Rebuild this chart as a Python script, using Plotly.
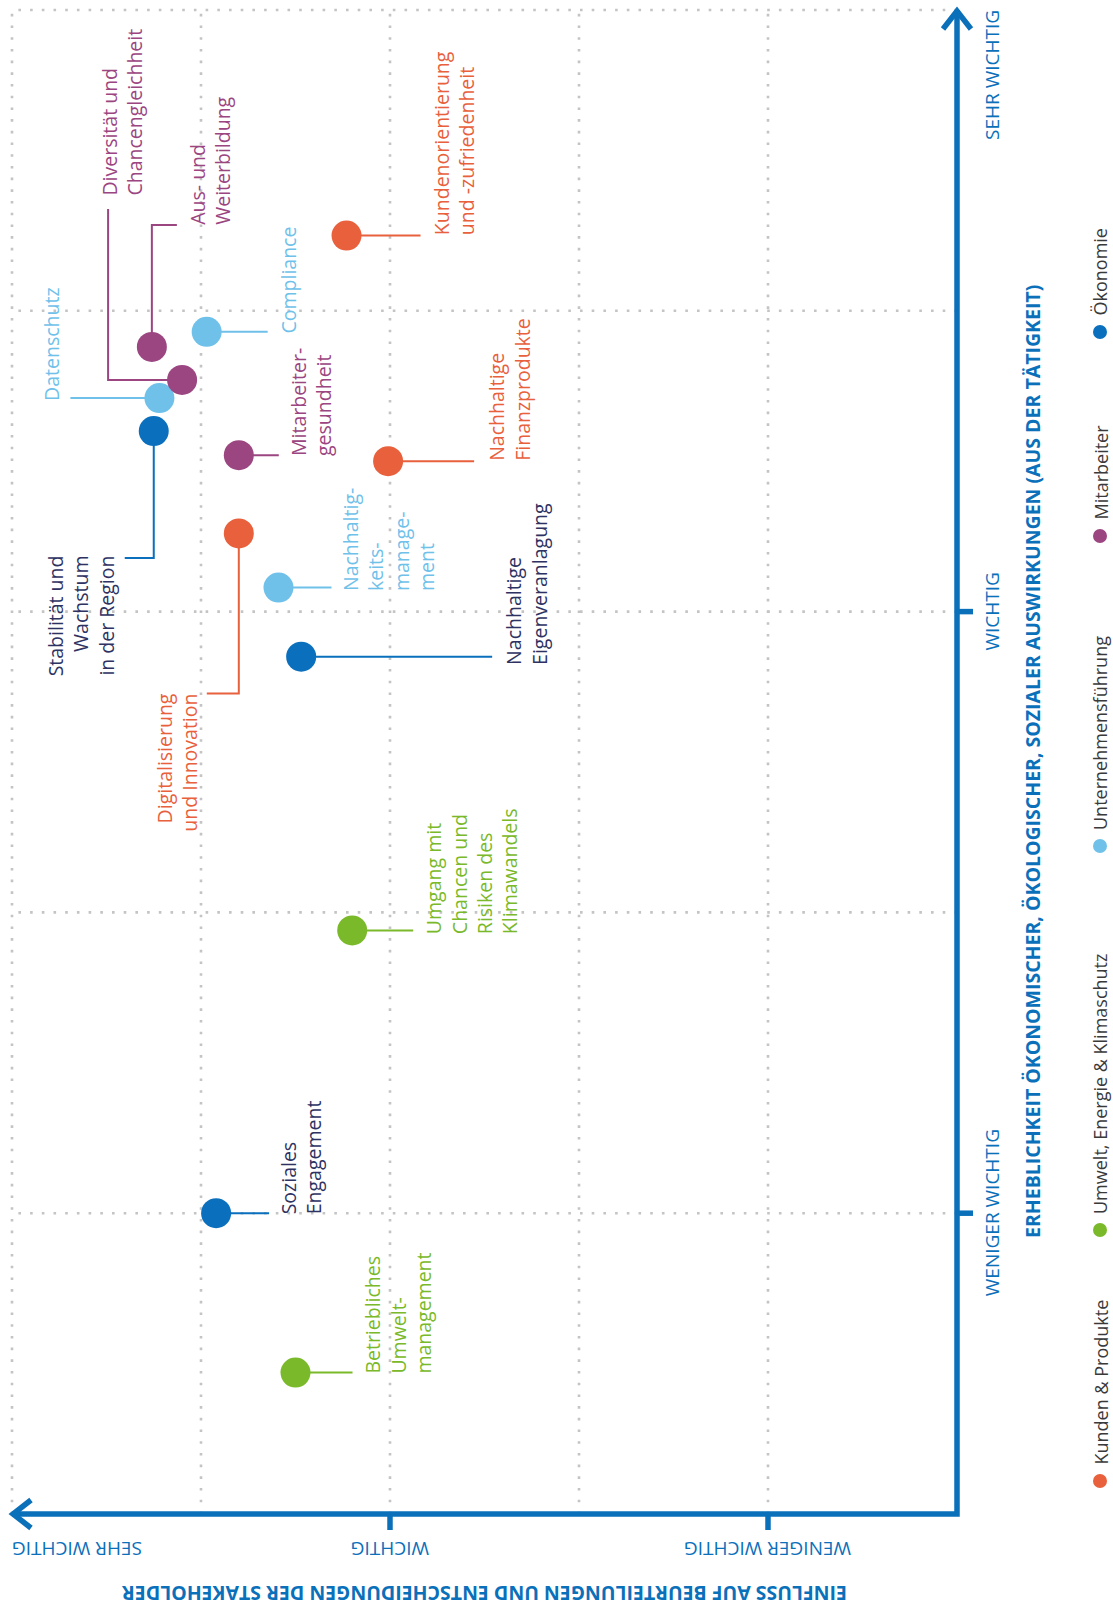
import plotly.graph_objects as go

# ---------------- data ----------------
topics = [
    "Kundenorientierung<br>und -zufriedenheit",
    "Compliance",
    "Aus- und<br>Weiterbildung",
    "Diversität und<br>Chancengleichheit",
    "Datenschutz",
    "Stabilität und<br>Wachstum<br>in der Region",
    "Mitarbeiter-<br>gesundheit",
    "Nachhaltige<br>Finanzprodukte",
    "Digitalisierung<br>und Innovation",
    "Nachhaltig-<br>keits-<br>manage-<br>ment",
    "Nachhaltige<br>Eigenveranlagung",
    "Umgang mit<br>Chancen und<br>Risiken des<br>Klimawandels",
    "Soziales<br>Engagement",
    "Betriebliches<br>Umwelt-<br>management",
]
# index into `categories`
topic_category = [0, 2, 3, 3, 2, 4, 3, 0, 0, 2, 4, 1, 4, 1]

# Einfluss auf Beurteilungen und Entscheidungen der Stakeholder (0..5)
einfluss = [3.23, 3.97, 4.26, 4.10, 4.22, 4.25, 3.80, 3.01, 3.80, 3.59, 3.47, 3.20, 3.92, 3.50]
# Erheblichkeit ökonomischer, ökologischer, sozialer Auswirkungen (0..5)
erheblichkeit = [4.25, 3.93, 3.88, 3.77, 3.71, 3.60, 3.52, 3.50, 3.26, 3.08, 2.85, 1.94, 1.00, 0.47]

categories = ["Kunden & Produkte", "Umwelt, Energie & Klimaschutz",
              "Unternehmensführung", "Mitarbeiter", "Ökonomie"]

level_names = ["WENIGER WICHTIG", "WICHTIG", "SEHR WICHTIG"]
level_values = [1, 3, 5]
grid_values = [1, 2, 3, 4, 5]

x_title = "EINFLUSS AUF BEURTEILUNGEN UND ENTSCHEIDUNGEN DER STAKEHOLDER"
y_title = "ERHEBLICHKEIT ÖKONOMISCHER, ÖKOLOGISCHER, SOZIALER AUSWIRKUNGEN (AUS DER TÄTIGKEIT)"

# ---------------- styling ----------------
DOT_COLORS = ["#e8603c", "#7ab929", "#6fc1ea", "#9b4581", "#0a6fbc"]
TEXT_COLORS = ["#e8603c", "#7ab929", "#6fc1ea", "#9b4581", "#2d3262"]
AXIS_BLUE = "#0b70ba"
GRID_GREY = "#c4c4c4"
FONT = "Open Sans"
LABEL_SIZE = 19.5
W, H = 1113, 1607

# label placement per topic:
# connector polyline (pixels relative to the dot, +y up), xanchor, yanchor, align, xshift, yshift
label_layout = [
    ([(0, 0), (74, 0)], "left", "bottom", "left", 79, -2),
    ([(0, 0), (61, 0)], "left", "bottom", "left", 66, -4),
    ([(0, 0), (0, 122), (25, 122)], "left", "bottom", "left", 30, 120),
    ([(0, 0), (-74, 0), (-74, 171)], "left", "bottom", "left", -88, 182),
    ([(0, 0), (-89, 0)], "right", "bottom", "left", -93, -5),
    ([(0, 0), (0, -127), (-29, -127)], "right", "top", "right", -32, -122),
    ([(0, 0), (40, 0)], "left", "bottom", "left", 44, -3),
    ([(0, 0), (86, 0)], "left", "bottom", "left", 93, -2),
    ([(0, 0), (0, -160), (-32, -160)], "right", "top", "right", -34, -157),
    ([(0, 0), (53, 0)], "left", "bottom", "left", 56, -5),
    ([(0, 0), (191, 0)], "left", "bottom", "left", 197, -10),
    ([(0, 0), (61, 0)], "left", "bottom", "left", 66, -6),
    ([(0, 0), (53, 0)], "left", "bottom", "left", 57, -3),
    ([(0, 0), (57, 0)], "left", "bottom", "left", 62, -3),
]

# legend rows: vertical pixel position of each dot (top of page = 0)
legend_dot_y = [1481, 1230, 846, 536, 332]
legend_x = 1100

fig = go.Figure()
shapes = []
annotations = []

# dotted grid
for v in grid_values:
    shapes.append(dict(type="line", xref="x", yref="y", x0=v, x1=v, y0=0, y1=5,
                       line=dict(color=GRID_GREY, width=2.6, dash="2.6px,9.1px"), layer="below"))
    shapes.append(dict(type="line", xref="x", yref="y", x0=0, x1=5, y0=v, y1=v,
                       line=dict(color=GRID_GREY, width=2.6, dash="2.6px,9.1px"), layer="below"))

# connectors from each dot to its label
for i, (pts, *_rest) in enumerate(label_layout):
    path = "M" + " L".join(f"{px},{py}" for px, py in pts)
    shapes.append(dict(type="path", xref="x", yref="y",
                       xsizemode="pixel", ysizemode="pixel",
                       xanchor=einfluss[i], yanchor=erheblichkeit[i], path=path,
                       line=dict(color=DOT_COLORS[topic_category[i]], width=2), layer="below"))

# axes (corner at 0/0, arrows at 5)
shapes.append(dict(type="path", xref="x", yref="y", path="M5,0 L0,0 L0,5",
                   line=dict(color=AXIS_BLUE, width=5.5), layer="below"))
shapes.append(dict(type="path", xref="x", yref="y", xsizemode="pixel", ysizemode="pixel",
                   xanchor=5, yanchor=0, path="M19,14 L1,0 L19,-14",
                   line=dict(color=AXIS_BLUE, width=5.5)))
shapes.append(dict(type="path", xref="x", yref="y", xsizemode="pixel", ysizemode="pixel",
                   xanchor=0, yanchor=5, path="M-14,-19 L0,-1 L14,-19",
                   line=dict(color=AXIS_BLUE, width=5.5)))
for v in level_values[:2]:
    shapes.append(dict(type="line", xref="x", yref="y", xsizemode="pixel", ysizemode="pixel",
                       xanchor=0, yanchor=v, x0=0, x1=16, y0=0, y1=0,
                       line=dict(color=AXIS_BLUE, width=5.5)))
    shapes.append(dict(type="line", xref="x", yref="y", xsizemode="pixel", ysizemode="pixel",
                       xanchor=v, yanchor=0, x0=0, x1=0, y0=0, y1=-16,
                       line=dict(color=AXIS_BLUE, width=5.5)))

# topic dots, one trace per category
for c, name in enumerate(categories):
    idx = [i for i in range(len(topics)) if topic_category[i] == c]
    fig.add_trace(go.Scatter(
        x=[einfluss[i] for i in idx], y=[erheblichkeit[i] for i in idx],
        mode="markers", name=name, showlegend=False,
        text=[topics[i].replace("<br>", " ") for i in idx], hoverinfo="text",
        marker=dict(size=30, color=DOT_COLORS[c], line=dict(width=0)),
    ))

# topic labels
for i, (pts, xa, ya, al, xs, ys) in enumerate(label_layout):
    annotations.append(dict(
        x=einfluss[i], y=erheblichkeit[i], xref="x", yref="y", text=topics[i],
        showarrow=False, textangle=-90, xanchor=xa, yanchor=ya, align=al,
        xshift=xs, yshift=ys,
        font=dict(family=FONT, size=LABEL_SIZE, color=TEXT_COLORS[topic_category[i]]),
    ))

# level labels on the vertical axis
for name, v in zip(level_names, level_values):
    annotations.append(dict(
        x=0, y=v, xref="x", yref="y", text=name, showarrow=False, textangle=-90,
        xanchor="center", yanchor="top" if v == 5 else "middle", xshift=35,
        yshift=2 if v == 5 else 0,
        font=dict(family=FONT, size=19, color=AXIS_BLUE),
    ))
# level labels on the horizontal axis (upside down)
for name, v in zip(level_names, level_values):
    annotations.append(dict(
        x=v, y=0, xref="x", yref="y", text=name, showarrow=False, textangle=180,
        xanchor="left" if v == 5 else "center", yanchor="middle", yshift=-35,
        xshift=-2 if v == 5 else 0,
        font=dict(family=FONT, size=19, color=AXIS_BLUE),
    ))

# axis titles
annotations.append(dict(
    x=0, y=2.5, xref="x", yref="y", text=f"<b>{y_title}</b>", showarrow=False,
    textangle=-90, xanchor="center", yanchor="middle", xshift=75,
    font=dict(family=FONT, size=19.5, color=AXIS_BLUE),
))
annotations.append(dict(
    x=2.5, y=0, xref="x", yref="y", text=f"<b>{x_title}</b>", showarrow=False,
    textangle=180, xanchor="center", yanchor="middle", yshift=-80,
    font=dict(family=FONT, size=19.5, color=AXIS_BLUE),
))

# legend
for c, name in enumerate(categories):
    py = 1 - legend_dot_y[c] / H
    shapes.append(dict(type="circle", xref="paper", yref="paper",
                       xsizemode="pixel", ysizemode="pixel",
                       xanchor=legend_x / W, yanchor=py, x0=-7, x1=7, y0=-7, y1=7,
                       fillcolor=DOT_COLORS[c], line=dict(width=0)))
    annotations.append(dict(
        x=legend_x / W, y=py, xref="paper", yref="paper", text=name, showarrow=False,
        textangle=-90, xanchor="center", yanchor="bottom", yshift=14,
        font=dict(family=FONT, size=18, color="#3a3a3a"),
    ))

# pixel mapping: x value 5 at 12 px, 0 at 957 px; y value 0 at 1514 px, 5 at 10 px
px_x = (957 - 12) / 5
px_y = (1514 - 10) / 5
fig.update_layout(
    width=W, height=H,
    margin=dict(l=0, r=0, t=0, b=0),
    paper_bgcolor="white", plot_bgcolor="white",
    xaxis=dict(range=[5 + 12 / px_x, -(W - 957) / px_x], visible=False, fixedrange=True),
    yaxis=dict(range=[-(H - 1514) / px_y, 5 + 10 / px_y], visible=False, fixedrange=True),
    shapes=shapes, annotations=annotations,
    showlegend=False,
)

fig.write_html("out.html", config={"displayModeBar": False})
